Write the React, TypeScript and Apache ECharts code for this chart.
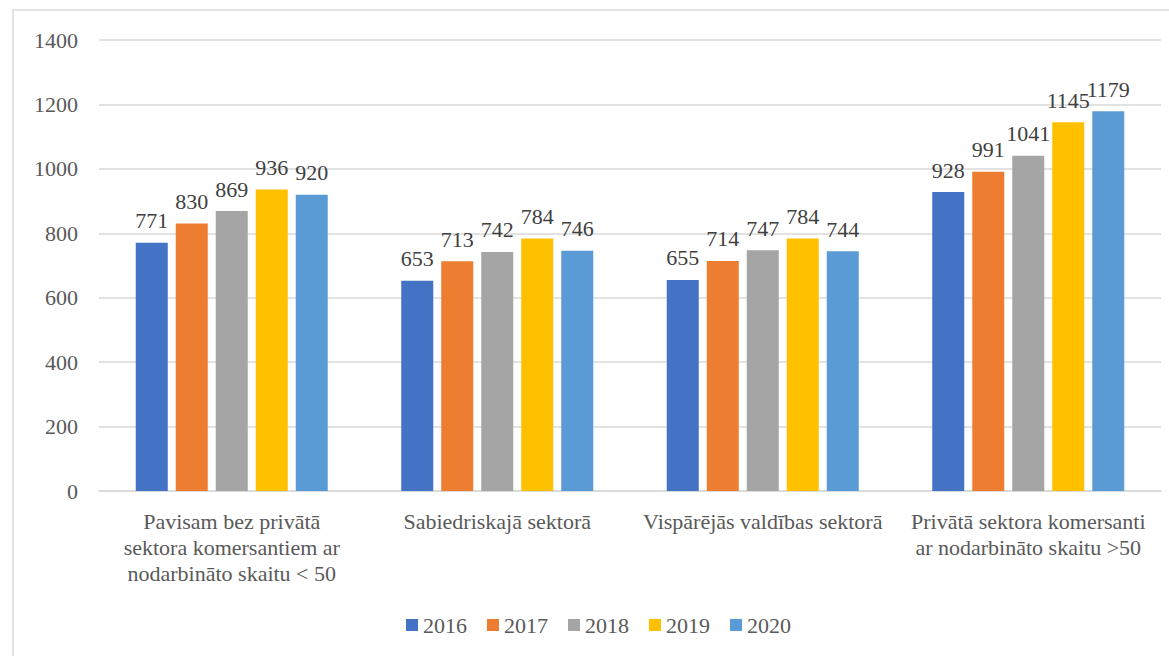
import React, { useEffect, useRef } from "react";
import * as echarts from "echarts";

const categories = [
  "Pavisam bez privātā\nsektora komersantiem ar\nnodarbināto skaitu < 50",
  "Sabiedriskajā sektorā",
  "Vispārējās valdības sektorā",
  "Privātā sektora komersanti\nar nodarbināto skaitu >50",
];
const years = ["2016", "2017", "2018", "2019", "2020"];
const v2016 = [771, 653, 655, 928];
const v2017 = [830, 713, 714, 991];
const v2018 = [869, 742, 747, 1041];
const v2019 = [936, 784, 784, 1145];
const v2020 = [920, 746, 744, 1179];
const seriesValues = [v2016, v2017, v2018, v2019, v2020];
const colors = ["#4472C4", "#ED7D31", "#A5A5A5", "#FFC000", "#5B9BD5"];
const yTicks = [0, 200, 400, 600, 800, 1000, 1200, 1400];

const FONT = "Liberation Serif";

export default function App() {
  const ref = useRef<HTMLDivElement>(null);
  useEffect(() => {
    if (!ref.current) return;
    const chart = echarts.init(ref.current, undefined, { renderer: "svg" });
    chart.setOption({
      animation: false,
      backgroundColor: "#ffffff",
      color: colors,
      textStyle: { fontFamily: FONT },
      graphic: [
        {
          type: "rect",
          shape: { x: 13, y: 10, width: 1200, height: 700 },
          style: { fill: "none", stroke: "#d9d9d9", lineWidth: 1.5 },
          silent: true,
        },
      ],
      grid: { left: 99, right: 8, top: 40, bottom: 165, containLabel: false },
      legend: {
        data: years,
        left: 406,
        top: 614,
        padding: 0,
        icon: "rect",
        itemWidth: 12,
        itemHeight: 12,
        itemGap: 20,
        textStyle: { fontFamily: FONT, fontSize: 22, color: "#595959" },
      },
      xAxis: {
        type: "category",
        data: categories,
        axisLine: { lineStyle: { color: "#d9d9d9", width: 1.5 } },
        axisTick: { show: false },
        axisLabel: {
          interval: 0,
          fontFamily: FONT,
          fontSize: 22,
          color: "#595959",
          lineHeight: 26,
          margin: 17,
        },
      },
      yAxis: {
        type: "value",
        min: yTicks[0],
        max: yTicks[yTicks.length - 1],
        interval: yTicks[1] - yTicks[0],
        axisLine: { show: false },
        axisTick: { show: false },
        splitLine: { lineStyle: { color: "#d9d9d9", width: 1.5 } },
        axisLabel: {
          fontFamily: FONT,
          fontSize: 22,
          color: "#595959",
          margin: 21,
          formatter: (v: number) => String(v),
        },
      },
      series: years.map((y, i) => ({
        name: y,
        type: "bar",
        data: seriesValues[i],
        barWidth: 32,
        barGap: "25%",
        itemStyle: { color: colors[i] },
        label: {
          show: true,
          position: "top",
          distance: 11,
          fontFamily: FONT,
          fontSize: 22,
          color: "#404040",
        },
      })),
    });
    return () => chart.dispose();
  }, []);
  return (
    <div
      ref={ref}
      style={{ position: "absolute", left: 0, top: 0, width: 1169, height: 656 }}
    />
  );
}
